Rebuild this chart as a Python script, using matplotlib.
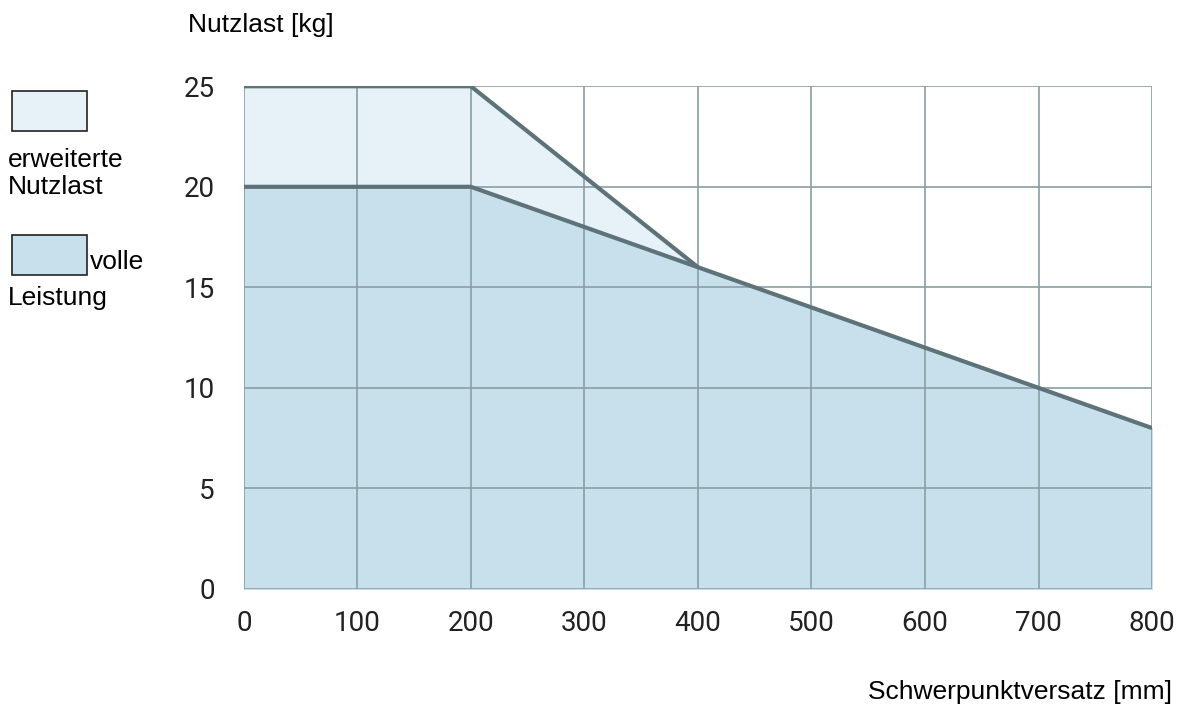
import matplotlib.pyplot as plt
from matplotlib.patches import Rectangle

# Daten
versatz_voll = [0, 200, 400, 500, 600, 700, 800]
nutzlast_voll = [20, 20, 16, 14, 12, 10, 8]
versatz_erw = [0, 200, 400]
nutzlast_erw = [25, 25, 16]
xticks = [0, 100, 200, 300, 400, 500, 600, 700, 800]
yticks = [0, 5, 10, 15, 20, 25]

c_erw = "#e6f1f8"
c_voll = "#c8e0ec"
c_line = "#5d7379"
c_grid = "#8a9ea4"

fig = plt.figure(figsize=(11.78, 7.13), dpi=100)
ax = fig.add_axes([0.207, 0.174, 0.771, 0.705])

ax.fill_between(versatz_erw, nutzlast_erw, color=c_erw, zorder=1)
ax.fill_between(versatz_voll, nutzlast_voll, color=c_voll, zorder=1)
ax.plot(versatz_erw, nutzlast_erw, color=c_line, lw=3, zorder=3, solid_capstyle="butt")
ax.plot(versatz_voll, nutzlast_voll, color=c_line, lw=3, zorder=3, solid_capstyle="butt")

ax.set_xlim(0, 800)
ax.set_ylim(0, 25)
ax.set_xticks(xticks)
ax.set_yticks(yticks)
ax.grid(True, color=c_grid, lw=1.2, zorder=2)
ax.set_axisbelow(False)
for s in ax.spines.values():
    s.set_visible(False)
ax.tick_params(length=0, labelsize=20, colors="#222222")
ax.tick_params(axis="x", pad=15)
ax.tick_params(axis="y", pad=21)
for lab in ax.get_xticklabels() + ax.get_yticklabels():
    lab.set_fontfamily("Roboto")

fig.text(188 / 1178, 1 - 25 / 713, "Nutzlast [kg]", fontsize=19,
         family="Liberation Sans", va="center", ha="left")
fig.text(1172 / 1178, 1 - 692 / 713, "Schwerpunktversatz [mm]", fontsize=19,
         family="Liberation Sans", va="center", ha="right")

# Legende
W, H = 1178, 713
fig.add_artist(Rectangle((12 / W, 1 - 131 / H), 75 / W, 40 / H, transform=fig.transFigure,
                         facecolor=c_erw, edgecolor="#222222", lw=1.2))
fig.add_artist(Rectangle((12 / W, 1 - 275 / H), 75 / W, 40 / H, transform=fig.transFigure,
                         facecolor=c_voll, edgecolor="#222222", lw=1.2))
fig.text(8 / W, 1 - 160 / H, "erweiterte", fontsize=19, family="Liberation Sans", va="center")
fig.text(8 / W, 1 - 187 / H, "Nutzlast", fontsize=19, family="Liberation Sans", va="center")
fig.text(90 / W, 1 - 262 / H, "volle", fontsize=19, family="Liberation Sans", va="center")
fig.text(8 / W, 1 - 298 / H, "Leistung", fontsize=19, family="Liberation Sans", va="center")

fig.savefig("out.png", dpi=100)
